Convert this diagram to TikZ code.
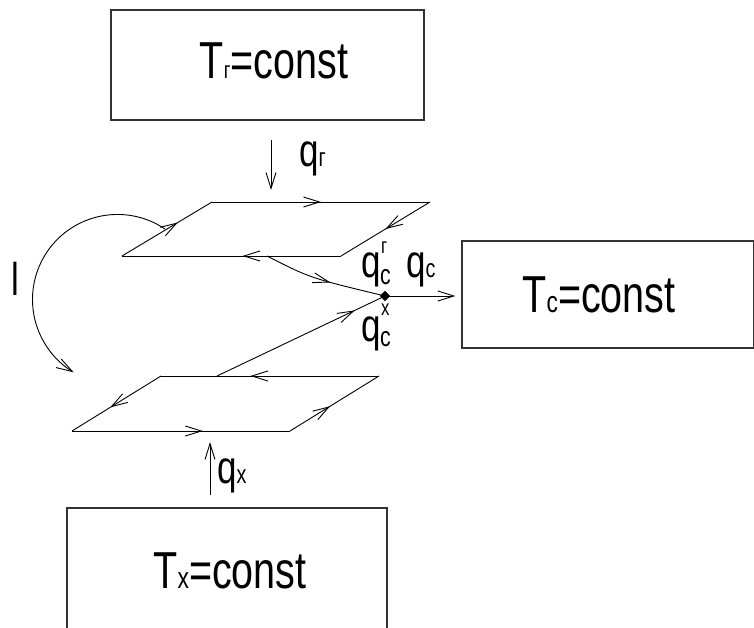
\documentclass[tikz,border=0pt]{standalone}
\usepackage{fontspec}
\setmainfont{Liberation Sans}
\newfontfamily\gost[FakeStretch=0.76]{Liberation Sans}
\usetikzlibrary{arrows.meta,decorations.markings,shapes.geometric}

% small letters set on the baseline (indices of T and q)
\newcommand\idx[2][30]{{\fontsize{#1}{#1}\selectfont #2}}

\tikzset{
  barbtip/.tip={Straight Barb[length=16pt,width=10pt,line width=0.9pt]},
  line/.style={line width=0.9pt, line join=round},
  flow/.style={line, -{barbtip}},
  box/.style={draw=black!80, line width=1.3pt, rectangle, inner sep=0pt},
  big/.style={inner sep=0pt, anchor=base, font=\gost\fontsize{52}{52}\selectfont},
  lbl/.style={inner sep=0pt, anchor=base west, font=\gost\fontsize{46}{46}\selectfont},
  tiny/.style={inner sep=0pt, anchor=base west, font=\gost\fontsize{28}{28}\selectfont},
  midarrow/.style={postaction={decorate},
    decoration={markings, mark=at position #1 with {\arrow{barbtip}}}},
  junction/.style={diamond, fill=black, draw=black, inner sep=0pt, minimum size=10pt},
}

\begin{document}
\begin{tikzpicture}[x=1pt, y=-1pt]
  \fill[white] (0,0) rectangle (754,628);
  \useasboundingbox (0,0) rectangle (754,628);
  \clip (0,0) rectangle (754,628);

  % reservoirs
  \node[box, minimum width=313pt, minimum height=110pt] (hot) at (267.5,65) {};
  \node[big] (hottxt) at (274,79) {T\idx[24]{г}=const};

  \node[box, minimum width=292pt, minimum height=107pt] (env) at (608,294.5) {};
  \node[big] (envtxt) at (599,312) {T\idx{с}=const};

  \node[box, minimum width=320pt, minimum height=150pt] (cold) at (227,583) {};
  \node[big] (coldtxt) at (230,588) {T\idx{х}=const};

  % upper cycle
  \coordinate (a1) at (122,256);
  \coordinate (b1) at (341,256);
  \coordinate (c1) at (430,202);
  \coordinate (d1) at (212,202);
  \draw[line, midarrow=0.5]  (d1) -- (c1);
  \draw[line, midarrow=0.5]  (c1) -- (b1);
  \draw[line, midarrow=0.45] (b1) -- (a1);
  \draw[line, midarrow=0.62] (a1) -- (d1);

  % lower cycle
  \coordinate (e2) at (72,431);
  \coordinate (f2) at (290,431);
  \coordinate (g2) at (379,376);
  \coordinate (h2) at (161,376);
  \draw[line, midarrow=0.59] (g2) -- (h2);
  \draw[line, midarrow=0.57] (h2) -- (e2);
  \draw[line, midarrow=0.6]  (e2) -- (f2);
  \draw[line, midarrow=0.45] (f2) -- (g2);

  % junction and heat flows to the surroundings
  \node[junction] (j) at (385,296) {};
  \coordinate (up1) at (267,256);
  \coordinate (lo1) at (217,376);
  \draw[line, midarrow=0.55] (up1) .. controls (310,278) .. (j.center);
  \draw[line, midarrow=0.82] (lo1) -- (j.center);
  \draw[flow, shorten >=6pt] (j.center) -- (env.west |- j.center);

  % heat inputs
  \coordinate (qhs) at (271,140);
  \coordinate (qhe) at (271,190);
  \draw[flow] (qhs) -- (qhe);
  \coordinate (qcs) at (210,495);
  \coordinate (qce) at (210,442);
  \draw[flow] (qcs) -- (qce);

  % work loop
  \coordinate (ls) at (165,229);
  \draw[flow] (ls) arc[start angle=-56, end angle=-239, radius=85];
  \node[lbl] (ltxt) at (11,295) {l};

  % labels
  \node[lbl] (qh) at (299,167) {q\idx[26]{г}};
  \node[lbl] (qenv) at (406,277) {q\idx[26]{с}};
  \node[lbl] (qch) at (361,277) {q};
  \node[tiny] (qchs) at (380,284) {с};
  \node[tiny, font=\gost\fontsize{22}{22}\selectfont] (qchp) at (381,254) {г};
  \node[lbl] (qcc) at (361,341) {q};
  \node[tiny] (qccs) at (380,346) {с};
  \node[tiny, font=\gost\fontsize{22}{22}\selectfont] (qccp) at (381,315) {х};
  \node[lbl] (qc) at (217,483) {q\idx[26]{х}};
\end{tikzpicture}
\end{document}
